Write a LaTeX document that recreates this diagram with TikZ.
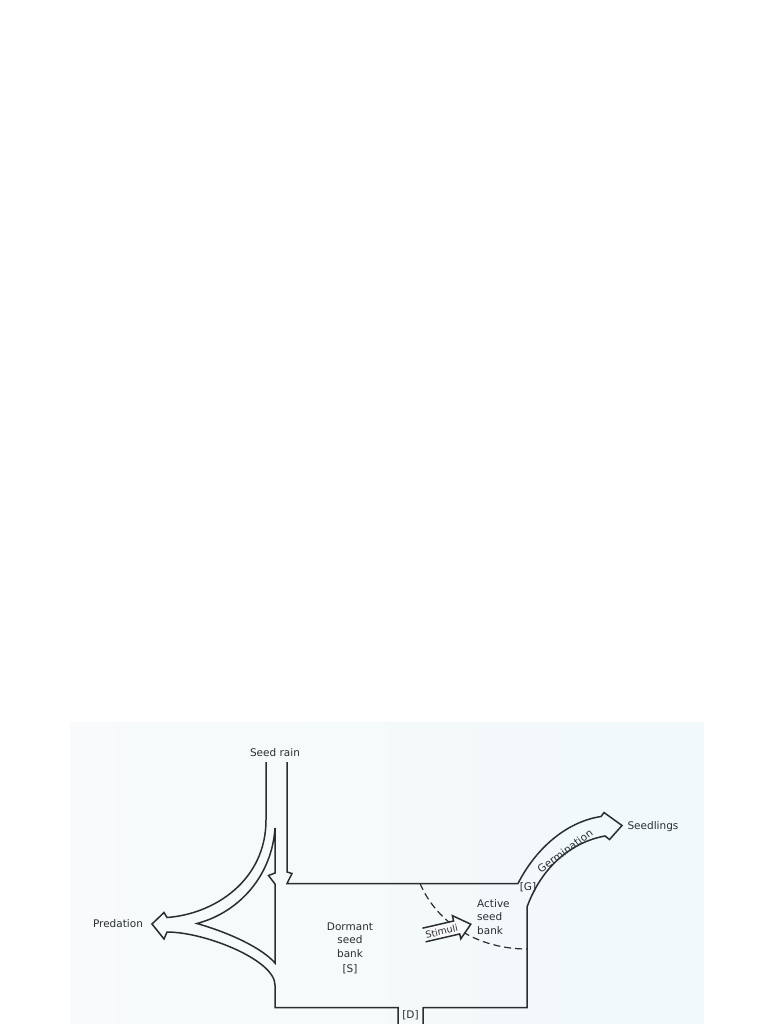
\documentclass[tikz,border=0pt]{standalone}
\usepackage{fontspec}
\setmainfont{DejaVu Sans}
\definecolor{inkc}{HTML}{2A2E32}
\definecolor{paperc}{HTML}{F8FAFB}
\definecolor{paperr}{HTML}{F1F9FA}
\newcommand{\lblfont}{\fontsize{10.5}{13.5}\selectfont}
\newcommand{\stimfont}{\fontsize{9.5}{11}\selectfont}

\tikzset{
  outline/.style={draw=inkc, line width=1.5pt, line join=miter},
  lbl/.style={text=inkc, font=\lblfont, inner sep=0pt, align=center},
  border/.style={draw=inkc, line width=1.2pt, dash pattern=on 7pt off 4pt},
}

\begin{document}
\begin{tikzpicture}[x=1pt,y=-1pt]
\useasboundingbox (0,0) rectangle (768,1024);
\shade[left color=paperc, right color=paperr] (70,722) rectangle (704,1024);

% flows
\draw[outline] (266,762) -- (266,820) .. controls (266,880) and (215,914) .. (167,917.5)
  -- (164,912.5) -- (152,924) -- (164,939) -- (167,932)
  .. controls (205,932) and (275,960) .. (275,985) -- (275,1007.5) -- (398,1007.5) -- (398,1024);
\draw[outline] (275,828) .. controls (272,875) and (240,912) .. (197,923.5)
  .. controls (230,933) and (262,948) .. (275,963) -- (275,884) -- (268.5,875.5) -- (275,873) -- cycle;
\draw[outline] (287,762) -- (287,872) -- (292,873.5) -- (287,883.5) -- (518,883.5)
  .. controls (535,850) and (565,822) .. (601,816.5) -- (604,812.5) -- (622,825.5) -- (609.5,839.5) -- (605,836)
  .. controls (572,842) and (542,866) .. (527,907) -- (527,1007.5) -- (423,1007.5) -- (423,1024);

% active part
\draw[border] (420,883.5) .. controls (438,925) and (480,949) .. (527,949);
\begin{scope}[shift={(424,935)}, rotate=13]
\draw[outline, fill=paperc] (0,-7) -- (32,-7) -- (32,-12.5) -- (48,0) -- (35,12) -- (35,7) -- (0,7);
\node[lbl, font=\stimfont, rotate=13] (stim) at (18,0.5) {Stimuli};
\end{scope}
\node[lbl, rotate=36] (germ) at (565,851) {Germination};

% labels
\node[lbl] (rain) at (275,753) {Seed rain};
\node[lbl] (pred) at (118,924) {Predation};
\node[lbl] (sdl) at (653,827) {Seedlings};
\node[lbl] (dorm) at (350,948.5) {Dormant\\seed\\bank\\[2pt]{[S]}};
\node[lbl, align=left, anchor=west] (act) at (477,917) {Active\\seed\\bank};
\node[lbl] (g) at (528,887) {[G]};
\node[lbl] (d) at (410.5,1015) {[D]};
\end{tikzpicture}
\end{document}
